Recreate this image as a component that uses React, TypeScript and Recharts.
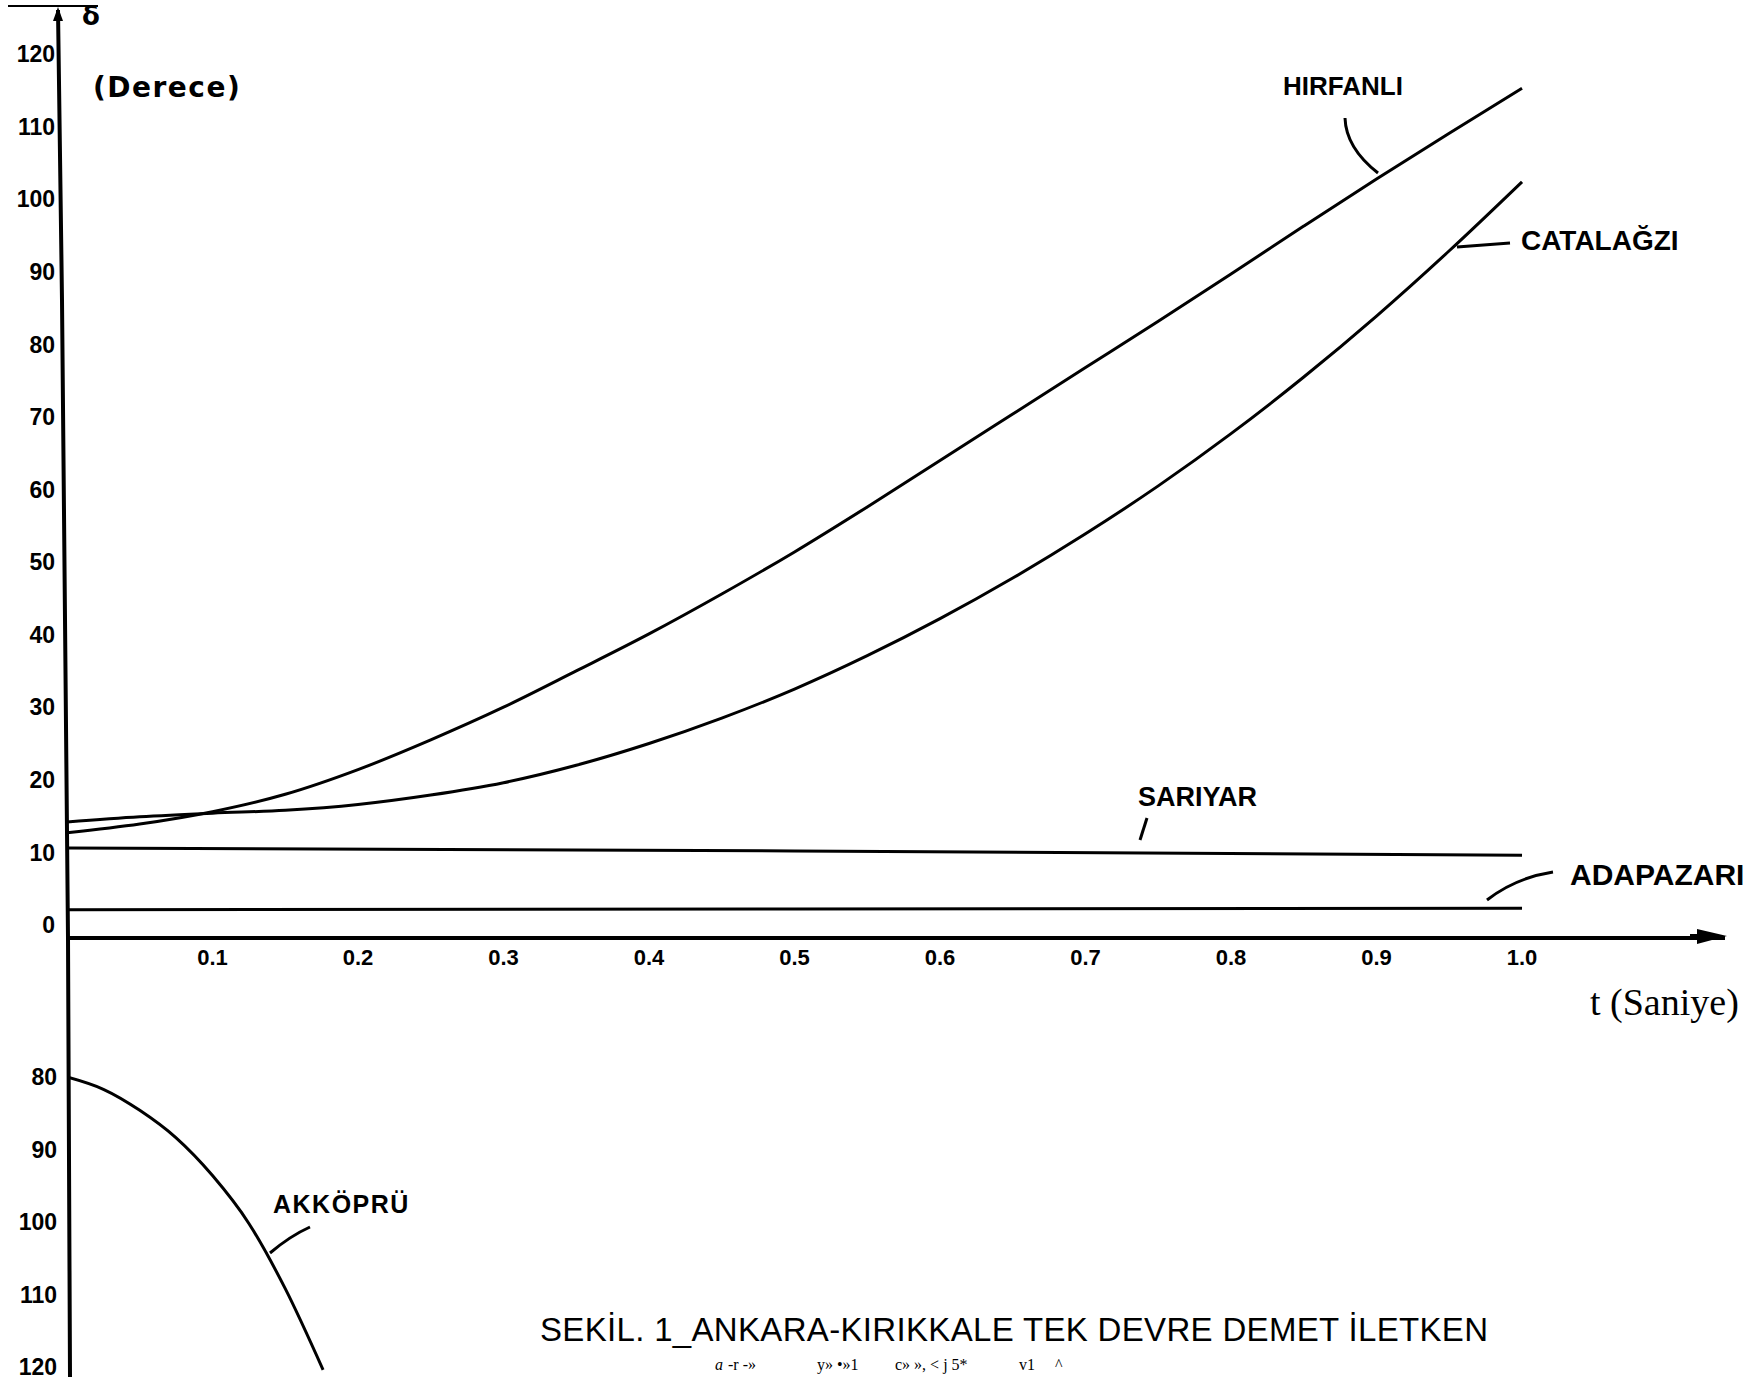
import React from "react";
import { LineChart, Line, XAxis, YAxis } from "recharts";

// time axis (seconds) and load angles (degrees)
const timeSteps = [0, 0.05, 0.1, 0.15, 0.2, 0.25, 0.3, 0.35, 0.4, 0.45, 0.5, 0.55, 0.6, 0.65, 0.7, 0.75, 0.8, 0.85, 0.9, 0.95, 1.0];
const hirfanli = [12.7, 13.9, 15.6, 18.0, 21.4, 25.5, 30.0, 35.0, 40.1, 45.6, 51.4, 57.6, 64.0, 70.4, 76.8, 83.2, 89.7, 96.3, 102.8, 109.1, 115.3];
const catalagzi = [14.2, 14.9, 15.4, 15.8, 16.6, 17.9, 19.6, 22.0, 25.0, 28.5, 32.5, 37.1, 42.2, 47.8, 53.9, 60.5, 67.7, 75.5, 83.9, 92.9, 102.4];
const flatTimes = [0, 0.5, 1.0];
const sariyar = [10.6, 10.2, 9.6];
const adapazari = [2.1, 2.2, 2.3];
const akkopruTimes = [0, 0.025, 0.05, 0.075, 0.1, 0.125, 0.15, 0.176];
const akkopru = [80, 81.7, 84.6, 88.4, 93.6, 100.2, 109.2, 120.4];

const timeTicks = [0.1, 0.2, 0.3, 0.4, 0.5, 0.6, 0.7, 0.8, 0.9, 1.0];
const upperTicks = [0, 10, 20, 30, 40, 50, 60, 70, 80, 90, 100, 110, 120];
const lowerTicks = [80, 90, 100, 110, 120];

const toPoints = (times: number[], values: number[]) =>
  times.map((t, i) => ({ t, v: values[i] }));

const hirfanliData = toPoints(timeSteps, hirfanli);
const catalagziData = toPoints(timeSteps, catalagzi);
const sariyarData = toPoints(flatTimes, sariyar);
const adapazariData = toPoints(flatTimes, adapazari);
const akkopruData = toPoints(akkopruTimes, akkopru);

const W = 1760;
const H = 1377;
const X_DOMAIN: [number, number] = [0, 1.1395];
const SANS = "'Liberation Sans', Arial, sans-serif";

const tickStyle = (size: number) => ({
  fill: "#000",
  fontSize: size,
  fontWeight: 700,
  fontFamily: SANS,
});

const lineProps = {
  type: "monotone" as const,
  dataKey: "v",
  stroke: "#000",
  strokeWidth: 3,
  dot: false,
  activeDot: false,
  isAnimationActive: false,
};

const Annotations: React.FC = () => (
  <svg
    width={W}
    height={H}
    style={{ position: "absolute", left: 0, top: 0, pointerEvents: "none" }}
  >
    {/* hand drawn vertical axis, slightly tilted */}
    <polyline points="58,10 62,300 68,938 70,1377" fill="none" stroke="#000" strokeWidth={4} />
    <polygon points="53,21 58,7 63,21" fill="#000" />
    <line x1={8} y1={6} x2={98} y2={6} stroke="#000" strokeWidth={2} />
    <polygon points="1697,929 1727,936 1697,944" fill="#000" />
    <line x1={1690} y1={936} x2={1700} y2={936} stroke="#000" strokeWidth={4} />

    <text x={82} y={25} fontFamily="'DejaVu Sans', sans-serif" fontWeight={700} fontSize={26}>δ</text>
    <text x={93} y={97} fontFamily="'DejaVu Sans', sans-serif" fontWeight={700} fontSize={28} letterSpacing={1.5}>(Derece)</text>

    <text x={1283} y={95} fontFamily={SANS} fontWeight={700} fontSize={26}>HIRFANLI</text>
    <path d="M1345,118 Q1346,148 1378,173" fill="none" stroke="#000" strokeWidth={3} />

    <text x={1521} y={250} fontFamily={SANS} fontWeight={700} fontSize={28}>CATALAĞZI</text>
    <line x1={1457} y1={247} x2={1510} y2={243} stroke="#000" strokeWidth={3} />

    <text x={1138} y={806} fontFamily={SANS} fontWeight={700} fontSize={27}>SARIYAR</text>
    <line x1={1147} y1={818} x2={1140} y2={840} stroke="#000" strokeWidth={3} />

    <text x={1570} y={885} fontFamily={SANS} fontWeight={700} fontSize={30}>ADAPAZARI</text>
    <path d="M1487,900 Q1515,878 1553,872" fill="none" stroke="#000" strokeWidth={3} />

    <text x={273} y={1213} fontFamily={SANS} fontWeight={700} fontSize={25} letterSpacing={1.5}>AKKÖPRÜ</text>
    <path d="M310,1227 Q290,1236 270,1253" fill="none" stroke="#000" strokeWidth={3} />

    <text x={1590} y={1015} fontFamily="'Liberation Serif', 'Times New Roman', serif" fontSize={38}>t (Saniye)</text>

    <text x={540} y={1341} fontFamily={SANS} fontSize={33} textLength={948} lengthAdjust="spacing">
      SEKİL. 1_ANKARA-KIRIKKALE TEK DEVRE DEMET İLETKEN
    </text>
    <g fontFamily="'Liberation Serif', serif" fontSize={16}>
      <text x={715} y={1370} fontStyle="italic">a</text>
      <text x={728} y={1370}>-r -»</text>
      <text x={817} y={1370}>y» •»1</text>
      <text x={895} y={1370}>c» », &lt; j 5*</text>
      <text x={1019} y={1370}>v1</text>
      <text x={1055} y={1370}>^</text>
    </g>
  </svg>
);

const App: React.FC = () => {
  return (
    <div
      style={{
        position: "absolute",
        left: 0,
        top: 0,
        width: W,
        height: H,
        overflow: "hidden",
        background: "#fff",
      }}
    >
      <div style={{ position: "absolute", left: 0, top: 0 }}>
        <LineChart width={W} height={1000} margin={{ top: 12, right: 35, left: 0, bottom: 0 }}>
          <XAxis
            type="number"
            dataKey="t"
            domain={X_DOMAIN}
            ticks={timeTicks}
            interval={0}
            tickFormatter={(v: number) => v.toFixed(1)}
            height={62}
            tickSize={0}
            tickMargin={11}
            axisLine={{ stroke: "#000", strokeWidth: 4 }}
            tickLine={false}
            tick={tickStyle(22)}
            allowDataOverflow
          />
          <YAxis
            type="number"
            domain={[-1.8, 125.8]}
            ticks={upperTicks}
            interval={0}
            width={67}
            tickSize={0}
            tickMargin={12}
            axisLine={false}
            tickLine={false}
            tick={tickStyle(23)}
            allowDataOverflow
          />
          <Line {...lineProps} data={hirfanliData} name="HIRFANLI" />
          <Line {...lineProps} data={catalagziData} name="CATALAĞZI" />
          <Line {...lineProps} type="linear" data={sariyarData} name="SARIYAR" />
          <Line {...lineProps} type="linear" data={adapazariData} name="ADAPAZARI" />
        </LineChart>
      </div>
      <div style={{ position: "absolute", left: 0, top: 938 }}>
        <LineChart width={W} height={439} data={akkopruData} margin={{ top: 0, right: 35, left: 0, bottom: 0 }}>
          <XAxis type="number" dataKey="t" domain={X_DOMAIN} hide allowDataOverflow />
          <YAxis
            type="number"
            reversed
            domain={[60.83, 121.38]}
            ticks={lowerTicks}
            interval={0}
            width={67}
            tickSize={0}
            tickMargin={10}
            axisLine={false}
            tickLine={false}
            tick={tickStyle(23)}
            allowDataOverflow
          />
          <Line {...lineProps} name="AKKÖPRÜ" />
        </LineChart>
      </div>
      <Annotations />
    </div>
  );
};

export default App;
